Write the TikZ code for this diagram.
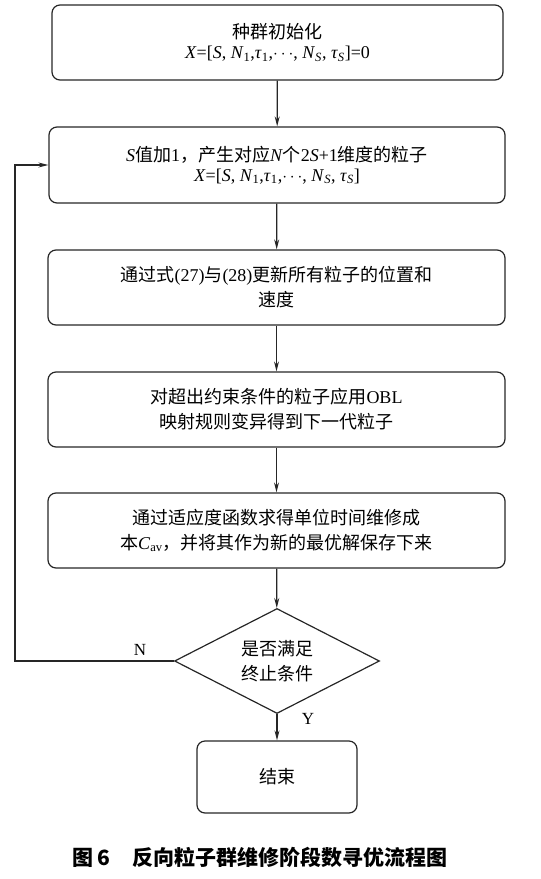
\documentclass[tikz,border=0pt]{standalone}
\usepackage{fontspec}
\setmainfont{Liberation Serif}
\newfontfamily\cjk{Noto Sans CJK SC}
\newcommand{\zh}[1]{{\cjk #1}}
\newcommand{\xvec}{\textit{X}=[\textit{S}, \textit{N}\textsubscript{1},\textit{τ}\textsubscript{1},$\cdots$, \textit{N}\textsubscript{\textit{S}}, \textit{τ}\textsubscript{\textit{S}}]}
\usetikzlibrary{shapes.geometric,arrows.meta}

\tikzset{
  procbox/.style={draw=black!85, line width=1.2pt, rounded corners=8pt,
    minimum width=456pt, minimum height=75pt, align=center,
    font=\fontsize{18}{25}\selectfont},
  decbox/.style={draw=black!85, line width=1.2pt, diamond, aspect=2,
    inner sep=0pt, minimum width=205pt, minimum height=105pt, align=center,
    font=\fontsize{18}{25}\selectfont},
  flow/.style={draw=black!85, line width=1.2pt, -{Stealth[length=10pt,width=5pt]}},
  yn/.style={font=\fontsize{17}{20}\selectfont}
}

\begin{document}
\begin{tikzpicture}[x=1pt,y=-1pt]

\useasboundingbox (0,0) rectangle (541,879);

% boxes
\node[procbox, minimum width=451pt] (init) at (277.5,42.5)
  {\zh{种群初始化}\\[-5pt] \xvec=0};
\node[procbox, minimum width=456pt, minimum height=76pt] (incr) at (277,165)
  {\textit{S}\zh{值加}1\zh{，产生对应}\textit{N}\zh{个}2\textit{S}+1\zh{维度的粒子}\\[-5pt] \xvec};
\node[procbox, minimum width=457pt] (upd) at (276.5,287.5)
  {\zh{通过式}(27)\zh{与}(28)\zh{更新所有粒子的位置和}\\ \zh{速度}};
\node[procbox, minimum width=457pt] (obl) at (276.5,409.5)
  {\zh{对超出约束条件的粒子应用}OBL\\ \zh{映射规则变异得到下一代粒子}};
\node[procbox, minimum width=457pt] (fit) at (276.5,530.5)
  {\zh{通过适应度函数求得单位时间维修成}\\ \zh{本}\textit{C}\textsubscript{av}\zh{，并将其作为新的最优解保存下来}};
\node[decbox] (dec) at (277,661) {\zh{是否满足}\\ \zh{终止条件}};
\node[procbox, minimum width=160pt, minimum height=72pt] (stop) at (277,777) {\zh{结束}};

% connectors
\draw[flow] (init) -- (incr);
\draw[flow] (incr) -- (upd);
\draw[flow] (upd) -- (obl);
\draw[flow] (obl) -- (fit);
\draw[flow] (fit) -- (dec);
\draw[flow] (dec) -- (stop);
\coordinate (back) at (15,400);
\draw[flow] (dec.west) -| (back) |- (incr.west);

\node[yn] (no) at (140,650) {N};
\node[yn] (yes) at (308,719) {Y};

% caption
\node[font=\cjk\bfseries\fontsize{21}{24}\selectfont] (cap) at (260,857)
  {图\,6\hspace{22pt}反向粒子群维修阶段数寻优流程图};

\end{tikzpicture}
\end{document}
